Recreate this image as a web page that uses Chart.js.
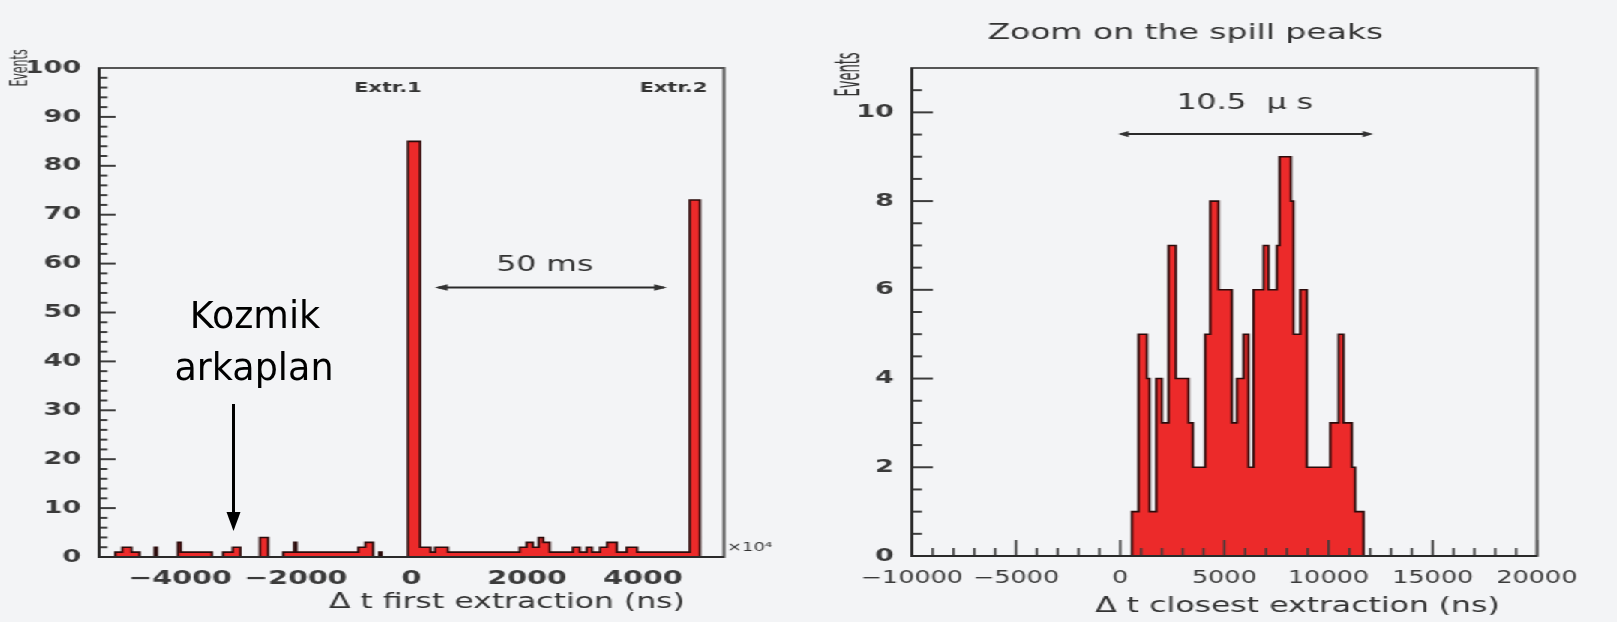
<!DOCTYPE html>
<html>
<head>
  <title>Spill timing</title>
  <script src="https://cdn.jsdelivr.net/npm/chart.js"></script>
  <style>
    body { margin: 0; background: #f3f4f6; width: 1617px; height: 622px; overflow: hidden; }
    /* the original ROOT plots are stretched sideways, so the whole stage is too */
    #stage { position: absolute; left: 0; top: 0; width: 1078px; height: 622px; transform: scaleX(1.5); transform-origin: 0 0; }
    #leftBox { position: absolute; left: 0; top: 0; }
    #rightBox { position: absolute; left: 540px; top: 0; }
    canvas { display: block; }
    #overlay { position: absolute; left: 0; top: 0; pointer-events: none; }
  </style>
</head>
<body>
  <div id="stage">
    <div id="leftBox"><canvas id="firstChart" width="530" height="622"></canvas></div>
    <div id="rightBox"><canvas id="closestChart" width="538" height="622"></canvas></div>
  </div>
  <svg id="overlay" width="1617" height="622">
    <text x="255" y="328" text-anchor="middle" font-family="DejaVu Sans" font-size="36.5" fill="#000">Kozmik</text>
    <text x="254" y="380" text-anchor="middle" font-family="DejaVu Sans" font-size="36.5" fill="#000">arkaplan</text>
    <line x1="233.5" y1="404" x2="233.5" y2="515" stroke="#000" stroke-width="3"/>
    <polygon points="226.5,512 240.5,512 233.5,531" fill="#000"/>
  </svg>
  <script>
    // Δt to first extraction (x10^4 ns): bin edges and counts
    const firstEdges = [-5400, -5120, -5000, -4840, -4700, -4440, -4400, -4040, -3990, -3450,
                        -3260, -3090, -2960, -2620, -2480, -2220, -2030, -1990, -920, -800,
                        -665, -560, -520, -60, 150, 330, 410, 630, 1870, 1990,
                        2100, 2200, 2280, 2390, 2790, 2910, 3030, 3120, 3260, 3380,
                        3550, 3720, 3900, 4810, 4985, 5400];
    const firstCounts = [0, 1, 2, 1, 0, 2, 0, 3, 1, 0,
                         1, 2, 0, 4, 0, 1, 3, 1, 2, 3,
                         0, 1, 0, 85, 2, 1, 2, 1, 2, 3,
                         2, 4, 3, 1, 2, 1, 2, 1, 2, 3,
                         1, 2, 1, 73, 0];
    const firstTicks = [-4000, -2000, 0, 2000, 4000];

    // Δt to closest extraction (ns): zoom on the spill peaks
    const closestEdges = [-10000, 560, 880, 1280, 1410, 1730, 2000, 2320, 2670, 3280,
                          3490, 4080, 4320, 4720, 5360, 5600, 5920, 6160, 6400, 6880,
                          7120, 7520, 7650, 8190, 8320, 8640, 8960, 10080, 10480, 10720,
                          11120, 11280, 11680, 20000];
    const closestCounts = [0, 1, 5, 4, 1, 4, 3, 7, 4, 3,
                           2, 5, 8, 6, 3, 4, 5, 2, 6, 7,
                           6, 7, 9, 8, 5, 6, 2, 3, 5, 3,
                           2, 1, 0];
    const closestTicks = [-10000, -5000, 0, 5000, 10000, 15000, 20000];
    const closestYTicks = [0, 2, 4, 6, 8, 10];

    Chart.defaults.font.family = "'DejaVu Sans', sans-serif";
    Chart.defaults.font.weight = 'bold';
    Chart.defaults.color = '#3a3a3a';

    const FONT = "'DejaVu Sans', sans-serif";
    const INK = '#333';

    function stepPoints(edges, counts) {
      const pts = counts.map((c, i) => ({ x: edges[i], y: c }));
      pts.push({ x: edges[edges.length - 1], y: 0 });
      return pts;
    }
    function fmt(v) { return (v < 0 ? '\u2212' : '') + Math.abs(v); }
    function tickMarks(from, to, step, every) {
      const out = [];
      for (let v = from; v <= to + 1e-9; v += step) {
        const r = v / every;
        out.push({ v, major: Math.abs(r - Math.round(r)) < 1e-6 });
      }
      return out;
    }
    function text(ctx, s, x, y, size, align, weight) {
      ctx.font = (weight || 'normal') + ' ' + size + 'px ' + FONT;
      ctx.textAlign = align || 'center';
      ctx.textBaseline = 'middle';
      ctx.fillText(s, x, y);
    }
    function yTitle(ctx, s, x, y, size, k) {
      ctx.save();
      ctx.translate(x, y);
      ctx.rotate(-Math.PI / 2);
      ctx.scale(1, k);
      text(ctx, s, 0, 0, size);
      ctx.restore();
    }
    function dblArrow(ctx, x1, x2, y, head) {
      ctx.lineWidth = 2;
      ctx.beginPath(); ctx.moveTo(x1 + 2, y); ctx.lineTo(x2 - 2, y); ctx.stroke();
      ctx.beginPath(); ctx.moveTo(x1, y); ctx.lineTo(x1 + head, y - 3.2); ctx.lineTo(x1 + head, y + 3.2); ctx.closePath(); ctx.fill();
      ctx.beginPath(); ctx.moveTo(x2, y); ctx.lineTo(x2 - head, y - 3.2); ctx.lineTo(x2 - head, y + 3.2); ctx.closePath(); ctx.fill();
    }

    // ROOT-like frame with inward ticks plus the text on each pad
    function decor(cfg) {
      return {
        id: 'rootDecor',
        afterDatasetsDraw(chart) {
          const { ctx, chartArea: a, scales } = chart;
          ctx.save();
          ctx.strokeStyle = '#3c3c3c';
          ctx.fillStyle = INK;
          ctx.lineWidth = 2;
          for (const t of cfg.yTicks) {
            const y = scales.y.getPixelForValue(t.v);
            ctx.beginPath(); ctx.moveTo(a.left, y); ctx.lineTo(a.left + (t.major ? cfg.yLen[0] : cfg.yLen[1]), y); ctx.stroke();
          }
          ctx.lineWidth = 1.5;
          for (const t of cfg.xTicks) {
            const x = scales.x.getPixelForValue(t.v);
            ctx.beginPath(); ctx.moveTo(x, a.bottom); ctx.lineTo(x, a.bottom - (t.major ? cfg.xLen[0] : cfg.xLen[1])); ctx.stroke();
          }
          ctx.lineWidth = 2;
          ctx.strokeStyle = '#555';
          ctx.strokeRect(a.left, a.top, a.right - a.left, a.bottom - a.top);
          ctx.strokeStyle = '#2a2a2a';
          ctx.beginPath(); ctx.moveTo(a.left, a.top); ctx.lineTo(a.left, a.bottom); ctx.lineTo(a.right, a.bottom); ctx.stroke();
          cfg.draw(ctx, a, scales.x, scales.y);
          ctx.restore();
        }
      };
    }

    function histDataset(edges, counts) {
      return {
        data: stepPoints(edges, counts),
        stepped: true,
        fill: 'origin',
        backgroundColor: '#ec2a2a',
        borderColor: '#2b0b0b',
        borderWidth: 1.6,
        pointRadius: 0
      };
    }

    new Chart(document.getElementById('firstChart'), {
      type: 'line',
      data: { datasets: [histDataset(firstEdges, firstCounts)] },
      options: {
        responsive: false,
        animation: false,
        layout: { padding: { left: 0, right: 47.3, top: 68, bottom: 0 } },
        plugins: { legend: { display: false }, tooltip: { enabled: false } },
        scales: {
          x: {
            type: 'linear', min: -5400, max: 5400,
            afterBuildTicks: s => { s.ticks = firstTicks.map(v => ({ value: v })); },
            afterFit: s => { s.height = 65; },
            grid: { display: false }, border: { display: false },
            ticks: { callback: fmt, autoSkip: false, maxRotation: 0, padding: 3, color: '#3a3a3a', font: { size: 19 } }
          },
          y: {
            min: 0, max: 100,
            afterFit: s => { s.width = 66; },
            grid: { display: false }, border: { display: false },
            ticks: { stepSize: 10, padding: 4, color: '#3a3a3a', font: { size: 18 } }
          }
        }
      },
      plugins: [decor({
        yTicks: tickMarks(0, 100, 2, 10), yLen: [11, 5.5],
        xTicks: [], xLen: [0, 0],
        draw(ctx, a, x, y) {
          yTitle(ctx, 'Events', 13.5, 68, 11, 1.5);
          text(ctx, 'Extr.1', x.getPixelForValue(-406), y.getPixelForValue(95.9), 14, 'center', 'bold');
          text(ctx, 'Extr.2', x.getPixelForValue(4527), y.getPixelForValue(95.9), 14, 'center', 'bold');
          text(ctx, '50 ms', x.getPixelForValue(2307), y.getPixelForValue(59.6), 21);
          dblArrow(ctx, x.getPixelForValue(406), x.getPixelForValue(4415), y.getPixelForValue(55.1), 8.5);
          text(ctx, '\u00d710\u2074', a.right + 2, a.bottom - 9, 12, 'left');
          text(ctx, '\u0394 t first extraction (ns)', a.right - 26, 603, 21, 'right');
        }
      })]
    });

    new Chart(document.getElementById('closestChart'), {
      type: 'line',
      data: { datasets: [histDataset(closestEdges, closestCounts)] },
      options: {
        responsive: false,
        animation: false,
        layout: { padding: { left: 0, right: 53.3, top: 68, bottom: 0 } },
        plugins: { legend: { display: false }, tooltip: { enabled: false } },
        scales: {
          x: {
            type: 'linear', min: -10000, max: 20000,
            afterBuildTicks: s => { s.ticks = closestTicks.map(v => ({ value: v })); },
            afterFit: s => { s.height = 66; },
            grid: { display: false }, border: { display: false },
            ticks: { callback: fmt, autoSkip: false, maxRotation: 0, padding: 4, color: '#3a3a3a', font: { size: 17, weight: 'normal' } }
          },
          y: {
            min: 0, max: 11,
            afterBuildTicks: s => { s.ticks = closestYTicks.map(v => ({ value: v })); },
            afterFit: s => { s.width = 68; },
            grid: { display: false }, border: { display: false },
            ticks: { padding: 4, color: '#3a3a3a', font: { size: 18 } }
          }
        }
      },
      plugins: [decor({
        yTicks: tickMarks(0, 11, 0.5, 2), yLen: [14, 6.7],
        xTicks: tickMarks(-10000, 20000, 1000, 5000), xLen: [16, 8],
        draw(ctx, a, x, y) {
          text(ctx, 'Zoom on the spill peaks', 250.3, 33, 22);
          yTitle(ctx, 'Events', 27, 74.5, 13, 1.7);
          text(ctx, '10.5  \u00b5 s', x.getPixelForValue(5984), y.getPixelForValue(10.19), 21);
          dblArrow(ctx, x.getPixelForValue(-100), x.getPixelForValue(12144), y.getPixelForValue(9.51), 7);
          text(ctx, '\u0394 t closest extraction (ns)', a.right - 24.7, 607, 21, 'right');
        }
      })]
    });
  </script>
</body>
</html>
